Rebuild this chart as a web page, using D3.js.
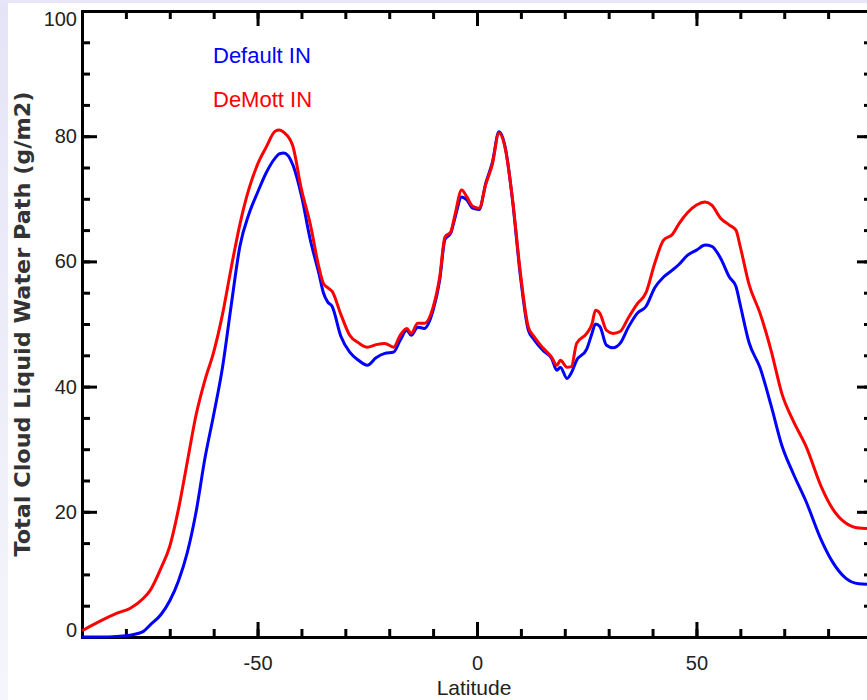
<!DOCTYPE html>
<html lang="en">
<head>
  <meta charset="UTF-8" />
  <title>Total Cloud Liquid Water Path</title>
  <script src="https://d3js.org/d3.v7.min.js"></script>
  <style>
    body { margin: 0; background: #fff; }
    svg { display: block; }
    .tick text { font-family: "Liberation Sans Narrow", "Liberation Sans", sans-serif; font-size: 20px; fill: #222; }
    .lbl { font-family: "Liberation Sans", sans-serif; fill: #222; }
  </style>
</head>
<body>
  <svg id="chart" width="867" height="700"></svg>

  <script>
    // latitude grid (deg) and zonal-mean total cloud liquid water path (g/m2)
    const latitude = [
      -90, -86, -82, -79, -76, -74.5, -72, -70, -68, -66, -64, -62, -60, -58, -56, -54, -52, -50,
      -48, -46, -45, -44, -42, -40, -38, -36, -35, -34, -33, -31, -29, -27, -25, -23, -21, -19,
      -17.5, -16, -15, -13.5, -12, -10, -8.5, -7.3, -6, -5, -3.5, -2.3, -1, 0.5, 2, 3.5, 5, 6.5,
      8, 10, 11.7, 13, 15, 17, 18.2, 19, 20.5, 21.5, 22.7, 25, 26.2, 27, 28, 29.5, 31, 32.6,
      34.5, 36.5, 38.5, 40.5, 42.5, 44.5, 46, 48, 50, 52, 53.5, 55.5, 57.5, 59, 60, 62, 64.5,
      67, 69.5, 72, 75, 78.5, 81, 84, 87, 90
    ];
    const defaultIN = [
      0, 0, 0.1, 0.3, 0.9, 1.9, 3.6, 5.8, 9, 13.5, 20, 28.5, 35.5, 43, 53, 62.5, 67.5, 71,
      74.2, 76.5, 77.2, 77.3, 75.5, 70.5, 63.5, 58, 55, 53.5, 52.8, 48, 45.5, 44.2, 43.4, 44.6, 45.3, 45.5,
      47.4, 49, 48.2, 49.5, 49.3, 52.2, 57, 63.5, 64.5, 67, 70.3, 69.8, 68.5, 68.3, 72.5, 75.8, 80.7, 78,
      70.3, 57, 49, 47.5, 45.8, 44.5, 42.6, 43.1, 41.3, 42.2, 44.2, 46, 48.5, 50, 49.6, 46.6, 46.2, 46.9,
      49.5, 51.7, 52.8, 55.8, 57.5, 58.6, 59.5, 61, 61.8, 62.6, 62.4, 60.5, 57.5, 56, 53, 47, 43,
      37, 30.5, 26.2, 21.6, 15.4, 12, 9.4, 8.5, 8.4
    ];
    const demottIN = [
      1.0, 2.5, 3.8, 4.6, 6.2, 7.4, 11.0, 14.5, 20.5, 28, 35.5, 41, 45.5, 51.5, 59, 66, 71.5, 75.5,
      78.3, 80.8, 81.0, 80.6, 78.5, 71.5, 66, 59, 56.5, 55.8, 55.2, 51.5, 48.2, 47, 46.3, 46.7, 46.9, 46.3,
      48.2, 49.3, 48.5, 50.1, 50.1, 52.7, 57.5, 63.9, 64.7, 67.5, 71.4, 70.3, 68.8, 68.5, 72.3, 75.5, 80.5, 77.8,
      70.5, 57.5, 49.5, 48, 46.2, 44.7, 43.4, 44.2, 43.1, 43.2, 46.9, 48.5, 50, 52.2, 51.7, 49, 48.5, 48.8,
      51, 53.2, 55, 59.7, 63.4, 64.3, 66, 67.8, 69, 69.5, 69, 66.9, 65.8, 65, 62.3, 56.3, 51.7,
      45.8, 38.8, 34.6, 30.4, 23.9, 20.5, 18.2, 17.4, 17.3
    ];
    const seriesNames = ['Default IN', 'DeMott IN'];
    const seriesColors = ['#0000ff', '#ff0000'];
    const xMajor = [-50, 0, 50];
    const yMajor = [0, 20, 40, 60, 80, 100];

    const svg = d3.select('#chart');
    const plotLeft = 82, plotRight = 872, plotTop = 11, plotBottom = 637;

    // lavender page edge seen in the original slide
    const grad = svg.append('defs').append('linearGradient')
      .attr('id', 'edge').attr('x1', 0).attr('y1', 0).attr('x2', 0).attr('y2', 1);
    grad.append('stop').attr('offset', 0).attr('stop-color', '#e4e4f6');
    grad.append('stop').attr('offset', 1).attr('stop-color', '#f5f5fc');
    svg.append('rect').attr('x', 0).attr('y', 0).attr('width', 8).attr('height', 700).attr('fill', 'url(#edge)');
    svg.append('rect').attr('x', 0).attr('y', 0).attr('width', 867).attr('height', 3).attr('fill', '#e6e6f7');

    const x = d3.scaleLinear().domain([-90, 90]).range([plotLeft, plotRight]);
    const y = d3.scaleLinear().domain([0, 100]).range([plotBottom, plotTop]);

    const axisStyle = g => {
      g.selectAll('path, line').attr('stroke', '#000').attr('stroke-width', 3);
      g.select('.domain').attr('stroke-linecap', 'square');
    };

    // minor ticks
    svg.append('g').attr('transform', `translate(0,${plotBottom})`)
      .call(d3.axisBottom(x).tickValues(d3.range(-80, 91, 10)).tickSize(-8).tickFormat(''))
      .call(axisStyle);
    svg.append('g').attr('transform', `translate(0,${plotTop})`)
      .call(d3.axisTop(x).tickValues(d3.range(-80, 91, 10)).tickSize(-8).tickFormat(''))
      .call(axisStyle);
    svg.append('g').attr('transform', `translate(${plotLeft},0)`)
      .call(d3.axisLeft(y).tickValues(d3.range(5, 100, 5)).tickSize(-8).tickFormat(''))
      .call(axisStyle);
    svg.append('g').attr('transform', `translate(${plotRight},0)`)
      .call(d3.axisRight(y).tickValues(d3.range(5, 100, 5)).tickSize(-8).tickFormat(''))
      .call(axisStyle);

    // major ticks with labels
    const xAxis = svg.append('g').attr('transform', `translate(0,${plotBottom})`)
      .call(d3.axisBottom(x).tickValues(xMajor).tickSize(-15).tickSizeOuter(0).tickPadding(19).tickFormat(d => String(d)))
      .call(axisStyle);
    xAxis.selectAll('.tick text').attr('dy', '0.71em');
    svg.append('g').attr('transform', `translate(0,${plotTop})`)
      .call(d3.axisTop(x).tickValues(xMajor).tickSize(-15).tickSizeOuter(0).tickFormat(''))
      .call(axisStyle);
    const yAxis = svg.append('g').attr('transform', `translate(${plotLeft},0)`)
      .call(d3.axisLeft(y).tickValues(yMajor).tickSize(-15).tickSizeOuter(0).tickPadding(5).tickFormat(d => String(d)))
      .call(axisStyle);
    // end labels sit inside the frame, as in the original
    yAxis.selectAll('.tick text').attr('transform', d => d === 100 ? 'translate(0,8)' : d === 0 ? 'translate(0,-7)' : null);
    svg.append('g').attr('transform', `translate(${plotRight},0)`)
      .call(d3.axisRight(y).tickValues(yMajor).tickSize(-15).tickSizeOuter(0).tickFormat(''))
      .call(axisStyle);

    // lines
    const line = vals => d3.line()
      .x((d, i) => x(latitude[i]))
      .y(d => y(d))
      .curve(d3.curveMonotoneX)(vals);

    [defaultIN, demottIN].forEach((vals, i) => {
      svg.append('path')
        .attr('d', line(vals))
        .attr('fill', 'none')
        .attr('stroke', seriesColors[i])
        .attr('stroke-width', 3)
        .attr('stroke-linejoin', 'round');
    });

    // legend
    seriesNames.forEach((name, i) => {
      svg.append('text').attr('class', 'lbl')
        .attr('x', 213).attr('y', 63 + i * 44)
        .attr('font-size', 22)
        .style('fill', seriesColors[i])
        .text(name);
    });

    // axis titles
    svg.append('text').attr('class', 'lbl')
      .attr('x', (plotLeft + plotRight) / 2 - 3).attr('y', 695)
      .attr('text-anchor', 'middle').attr('font-size', 21)
      .text('Latitude');
    svg.append('text')
      .attr('transform', 'translate(30,324) rotate(-90)')
      .attr('text-anchor', 'middle')
      .style('font-family', '"DejaVu Sans", sans-serif')
      .style('font-size', '21px')
      .style('font-weight', 'bold')
      .style('fill', '#333')
      .attr('textLength', 465)
      .attr('lengthAdjust', 'spacingAndGlyphs')
      .text('Total Cloud Liquid Water Path (g/m2)');
  </script>
</body>
</html>
